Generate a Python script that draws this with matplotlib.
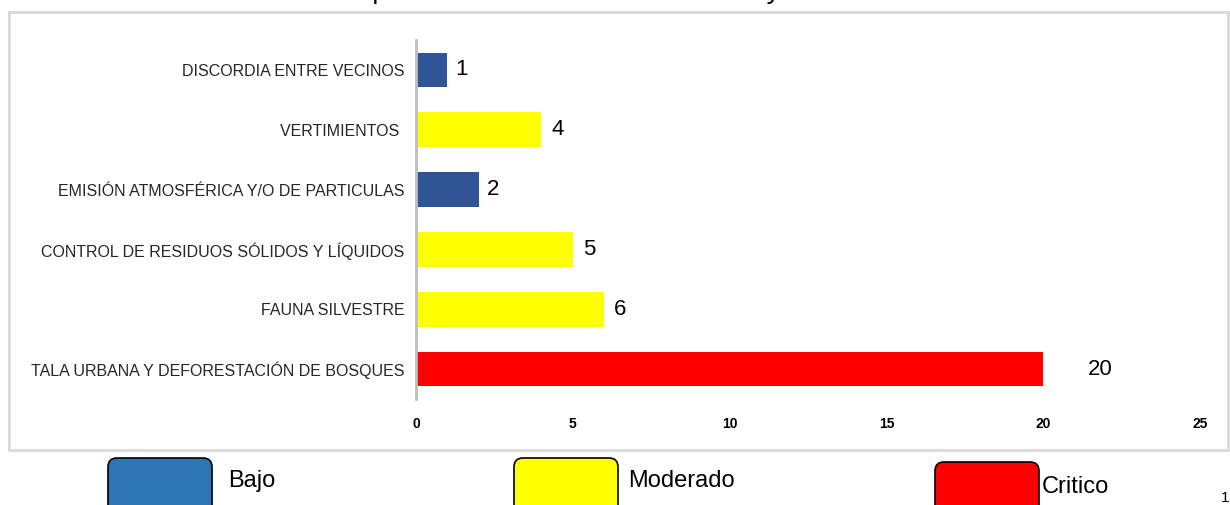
import matplotlib
matplotlib.use("Agg")
import matplotlib.pyplot as plt
from matplotlib.patches import FancyBboxPatch, Rectangle

# ---- data ----
categories = [
    "TALA URBANA Y DEFORESTACIÓN DE BOSQUES",
    "FAUNA SILVESTRE",
    "CONTROL DE RESIDUOS SÓLIDOS Y LÍQUIDOS",
    "EMISIÓN ATMOSFÉRICA Y/O DE PARTICULAS",
    "VERTIMIENTOS ",
    "DISCORDIA ENTRE VECINOS",
]
values = [20, 6, 5, 2, 4, 1]
levels = ["Critico", "Moderado", "Moderado", "Bajo", "Moderado", "Bajo"]
xticks = [0, 5, 10, 15, 20, 25]
title = "Tipos de Afectación Ambiental Mayo de 2013"

bar_colors = {"Bajo": "#2F5597", "Moderado": "#FFFF00", "Critico": "#FF0000"}
legend_labels = ["Bajo", "Moderado", "Critico"]
legend_colors = ["#2E75B6", "#FFFF00", "#FF0000"]

plt.rcParams["font.family"] = ["Liberation Sans", "DejaVu Sans"]

W, H = 1230, 505
fig = plt.figure(figsize=(W / 100, H / 100), dpi=100)

def fx(px):
    return px / W

def fy(py):
    return 1 - py / H

# outer chart frame
fig.patches.append(Rectangle((fx(9), fy(450)), fx(1219), 438 / H, transform=fig.transFigure,
                             fill=False, edgecolor="#D9D9D9", linewidth=2))

# title (cut off at the top of the page)
fig.text(fx(627), fy(-1.5), title, ha="center", va="baseline", fontsize=20, color="black")

ax = fig.add_axes([fx(416), fy(399), fx(1200 - 416), (399 - 40) / H])
ypos = list(range(len(categories)))
ax.barh(ypos, values, height=0.58, color=[bar_colors[l] for l in levels], zorder=2)
ax.set_xlim(0, 25)
ax.set_ylim(-0.5, len(categories) - 0.5)
ax.set_yticks(ypos)
ax.set_yticklabels(categories, fontsize=11.5, color="#262626")
ax.set_xticks(xticks)
ax.set_xticklabels([str(t) for t in xticks], fontsize=10, fontweight="bold")
ax.tick_params(axis="y", length=0, pad=8.5)
ax.tick_params(axis="x", length=0, pad=13)
for s in ["top", "right", "bottom"]:
    ax.spines[s].set_visible(False)
ax.spines["left"].set_color("#BFBFBF")
ax.spines["left"].set_linewidth(2)

label_offsets = [45, 10, 10, 8, 10, 8]
for y, v, off in zip(ypos, values, label_offsets):
    ax.annotate(str(v), (v, y), xytext=(off, 0), textcoords="offset pixels",
                ha="left", va="center", fontsize=16, color="black")

# legend boxes
box_x = [108, 514, 935]
box_top = [458, 458, 462]
text_x = [228, 628, 1042]
text_y = [481, 481, 487]
for lab, col, bx, bt, tx, ty in zip(legend_labels, legend_colors, box_x, box_top, text_x, text_y):
    p = FancyBboxPatch((fx(bx + 6), fy(bt + 60)), fx(104 - 12), 54 / H,
                       boxstyle="round,pad=0,rounding_size=0.006", transform=fig.transFigure,
                       facecolor=col, edgecolor="black", linewidth=1.2, mutation_aspect=W / H)
    p.set_boxstyle("round", pad=fx(6), rounding_size=fx(9))
    fig.patches.append(p)
    fig.text(fx(tx), fy(ty), lab, ha="left", va="center", fontsize=17)

fig.text(fx(1225), fy(498), "1", ha="center", va="center", fontsize=11)

fig.savefig("out.png", dpi=100)
